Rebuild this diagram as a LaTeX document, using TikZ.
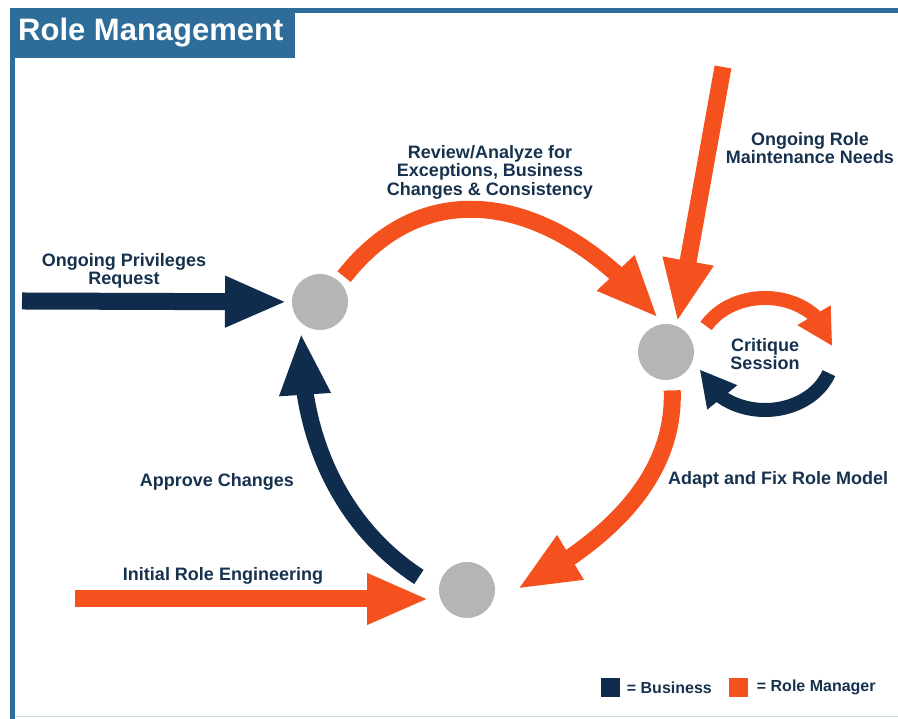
\documentclass[tikz,border=0pt]{standalone}
\usepackage{fontspec}
\setmainfont{Liberation Sans}
\usetikzlibrary{arrows.meta, bending, positioning}

\definecolor{bizblue}{HTML}{0F2C4C}
\definecolor{mgrorange}{HTML}{F4511E}
\definecolor{hubgray}{HTML}{B4B5B7}
\definecolor{titleblue}{HTML}{2E6D99}
\definecolor{textnavy}{HTML}{17324F}
\definecolor{rulelight}{HTML}{C9DCE8}

\tikzset{
  hub/.style={circle, fill=hubgray, minimum size=56pt, inner sep=0pt, outer sep=0pt},
  bizflow/.style={draw=bizblue, line width=17pt, -{Triangle[length=62pt,width=47pt]}},
  mgrflow/.style={draw=mgrorange, line width=17pt, -{Triangle[length=62pt,width=47pt]}},
  looparrow/.style={line width=14pt, -{Triangle[length=36pt,width=36pt]}},
  lbl/.style={text=textnavy, align=center, inner sep=0pt, font=\bfseries\fontsize{18}{18.5}\selectfont},
  keybox/.style={minimum size=19pt, inner sep=0pt},
  keytext/.style={text=textnavy, inner sep=0pt, font=\bfseries\fontsize{16}{16}\selectfont}
}

\begin{document}
\begin{tikzpicture}[x=1pt,y=1pt]
\useasboundingbox (0,0) rectangle (898,719);

% frame and title
\fill[titleblue] (10,706) rectangle (898,711);
\fill[titleblue] (10,0) rectangle (15,711);
\fill[titleblue] (10,661) rectangle (295,711);
\fill[rulelight] (15,1.5) rectangle (898,3);
\node[anchor=west, text=white, inner sep=0pt, font=\bfseries\fontsize{31}{31}\selectfont] (title) at (18,686) {Role Management};

% hubs
\node[hub] (reqhub) at (320,417) {};
\node[hub] (fixhub) at (666,367) {};
\node[hub] (basehub) at (467,129) {};

% inputs
\coordinate (privstart) at (22,418);
\draw[bizflow, shorten >=5pt] (privstart) -- (reqhub);

\coordinate (initstart) at (75,120);
\draw[mgrflow, shorten >=10pt] (initstart) -- (initstart -| basehub.west);

\coordinate (maintstart) at (723,652);
\draw[mgrflow, shorten >=4pt] (maintstart) -- (fixhub.68);

% cycle
\draw[mgrflow, shorten <=7pt, shorten >=8pt] (reqhub.45) to[out=52, in=128, looseness=1.2] (fixhub.96);
\draw[mgrflow, shorten <=11pt, shorten >=28pt] (fixhub.-78) to[out=-88, in=26] (basehub.-25);
\draw[bizflow, shorten <=24pt, shorten >=10pt] (basehub.180) to[out=147, in=-92] (reqhub.228);

% critique loop
\node[lbl] (critique) at (765,365) {Critique\\Session};
\draw[mgrorange, looparrow] ([shift={(150:68pt and 56pt)}]critique.center) arc[start angle=150, end angle=8, x radius=68, y radius=56];
\draw[bizblue, looparrow] ([shift={(-20:68pt and 56pt)}]critique.center) arc[start angle=-20, end angle=-164, x radius=68, y radius=56];

% labels
\node[lbl] (privtext) at (124,448) {Ongoing Privileges\\Request};
\node[lbl] (reviewtext) at (490,547) {Review/Analyze for\\Exceptions, Business\\Changes \& Consistency};
\node[lbl] (mainttext) at (810,571) {Ongoing Role\\Maintenance Needs};
\node[lbl, anchor=west] (adapttext) at (668,239) {Adapt and Fix Role Model};
\node[lbl] (approvetext) at (217,237) {Approve Changes};
\node[lbl] (inittext) at (223,143) {Initial Role Engineering};

% legend
\node[keybox, fill=bizblue] (bizkey) at (610,31.5) {};
\node[keytext, right=7pt of bizkey] (biztext) {= Business};
\node[keybox, fill=mgrorange] (mgrkey) at (738,31.5) {};
\node[keytext, right=9pt of mgrkey] (mgrtext) {= Role Manager};
\end{tikzpicture}
\end{document}
